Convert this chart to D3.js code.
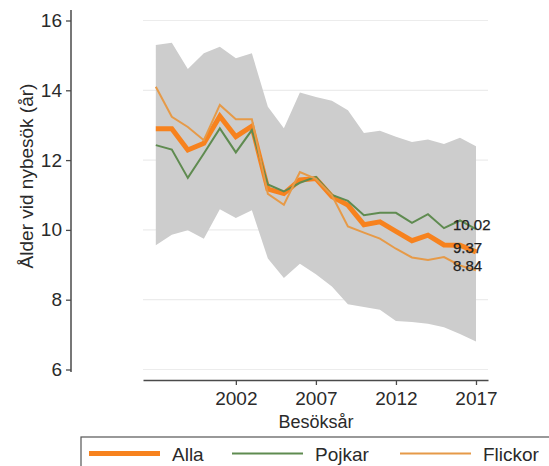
<!DOCTYPE html>
<html>
<head>
<meta charset="utf-8">
<script src="https://cdn.jsdelivr.net/npm/d3@7"></script>
<style>
  html, body { margin: 0; padding: 0; background: #fff; }
  svg { display: block; font-family: "Liberation Sans", Arial, sans-serif; }
</style>
</head>
<body>
<svg id="chart" width="549" height="466"></svg>
<script>
// Visit years
const years = [1997, 1998, 1999, 2000, 2001, 2002, 2003, 2004, 2005, 2006, 2007,
               2008, 2009, 2010, 2011, 2012, 2013, 2014, 2015, 2016, 2017];

// Mean age at first visit
const alla    = [12.90, 12.90, 12.29, 12.48, 13.26, 12.67, 12.97, 11.17, 11.04, 11.43, 11.47,
                 10.96, 10.71, 10.15, 10.23, 9.96, 9.69, 9.85, 9.57, 9.56, 9.37];
const pojkar  = [12.43, 12.30, 11.49, 12.19, 12.91, 12.22, 12.86, 11.30, 11.10, 11.35, 11.52,
                 11.00, 10.83, 10.42, 10.49, 10.49, 10.20, 10.45, 10.05, 10.27, 10.02];
const flickor = [14.10, 13.24, 12.95, 12.57, 13.58, 13.17, 13.17, 11.03, 10.72, 11.66, 11.46,
                 10.99, 10.10, 9.92, 9.75, 9.46, 9.21, 9.14, 9.22, 8.98, 8.84];

// Spread band (upper / lower limit)
const bandHigh = [15.30, 15.36, 14.61, 15.06, 15.25, 14.92, 15.06, 13.53, 12.91, 13.94, 13.81,
                  13.70, 13.43, 12.78, 12.84, 12.67, 12.52, 12.59, 12.46, 12.64, 12.40];
const bandLow  = [9.56, 9.86, 9.99, 9.75, 10.59, 10.34, 10.56, 9.18, 8.62, 9.03, 8.73,
                  8.38, 7.87, 7.79, 7.71, 7.39, 7.36, 7.31, 7.21, 7.02, 6.80];

// Axis ticks
const xTicks = [2002, 2007, 2012, 2017];
const yTicks = [6, 8, 10, 12, 14, 16];

const seriesNames = ["Alla", "Pojkar", "Flickor"];
const seriesValues = [alla, pojkar, flickor];
const seriesColors = ["#f7821e", "#5f8b50", "#e69a48"];
const seriesWidths = [5, 2, 2];

const svg = d3.select("#chart");
const axisColor = "#4a4a4a";
const textColor = "#2a2a2a";

const x = d3.scaleLinear().domain([1996.2, 2017.75]).range([143, 488]);
const y = d3.scaleLinear().domain([6, 16]).range([369.5, 20.5]);

// Gridlines
svg.append("g").selectAll("line").data(yTicks).join("line")
  .attr("x1", x.range()[0]).attr("x2", x.range()[1])
  .attr("y1", d => y(d)).attr("y2", d => y(d))
  .attr("stroke", "#ececec").attr("stroke-width", 1.2);

// Band
const rows = years.map((yr, i) => ({ yr, hi: bandHigh[i], lo: bandLow[i] }));
svg.append("path").datum(rows)
  .attr("fill", "#cdcdcd")
  .attr("d", d3.area().x(d => x(d.yr)).y0(d => y(d.lo)).y1(d => y(d.hi)));

// Lines
const line = d3.line().x(d => x(d[0])).y(d => y(d[1]));
seriesValues.forEach((vals, k) => {
  svg.append("path")
    .datum(years.map((yr, i) => [yr, vals[i]]))
    .attr("fill", "none")
    .attr("stroke", seriesColors[k])
    .attr("stroke-width", seriesWidths[k])
    .attr("stroke-linejoin", "miter")
    .attr("d", line);
});

// End-value labels
const lastYear = years[years.length - 2];
[pojkar, alla, flickor].forEach(vals => {
  const v = vals[vals.length - 1];
  svg.append("text")
    .attr("x", x(lastYear) - 7)
    .attr("y", y(v) + 1)
    .attr("font-size", 15)
    .attr("fill", "#222")
    .attr("stroke", "#222").attr("stroke-width", 0.25)
    .text(v.toFixed(2));
});

// Y axis
const yAxis = svg.append("g").attr("transform", "translate(71,0)")
  .call(d3.axisLeft(y).tickValues(yTicks).tickSize(5).tickPadding(4).tickSizeOuter(0));
yAxis.select(".domain").remove();
yAxis.append("line")
  .attr("x1", 0).attr("x2", 0)
  .attr("y1", y(16.3)).attr("y2", y(5.93))
  .attr("stroke", axisColor).attr("stroke-width", 1.5);
yAxis.selectAll(".tick line").attr("stroke", axisColor).attr("stroke-width", 1.3);
yAxis.selectAll(".tick text").attr("font-size", 19).attr("fill", textColor)
  .attr("font-family", "Liberation Sans, Arial, sans-serif");

// X axis
const xAxis = svg.append("g").attr("transform", "translate(0,380)")
  .call(d3.axisBottom(x).tickValues(xTicks).tickFormat(d3.format("d"))
    .tickSize(5).tickPadding(7).tickSizeOuter(0));
xAxis.select(".domain").attr("stroke", axisColor).attr("stroke-width", 1.5);
xAxis.selectAll(".tick line").attr("stroke", axisColor).attr("stroke-width", 1.3);
xAxis.selectAll(".tick text").attr("font-size", 19).attr("fill", textColor)
  .attr("font-family", "Liberation Sans, Arial, sans-serif");

// Axis titles
svg.append("text")
  .attr("transform", "translate(33,176) rotate(-90)")
  .attr("text-anchor", "middle")
  .attr("font-size", 19)
  .attr("fill", textColor)
  .text("Ålder vid nybesök (år)");

svg.append("text")
  .attr("x", x(2007)).attr("y", 427.5)
  .attr("text-anchor", "middle")
  .attr("font-size", 18)
  .attr("fill", textColor)
  .text("Besöksår");

// Legend
const legend = svg.append("g");
legend.append("rect")
  .attr("x", 81).attr("y", 437).attr("width", 490).attr("height", 50)
  .attr("fill", "#fff").attr("stroke", "#555").attr("stroke-width", 1.2);
const legendX = [89, 232, 400];
seriesNames.forEach((name, k) => {
  legend.append("line")
    .attr("x1", legendX[k]).attr("x2", legendX[k] + 71)
    .attr("y1", 453.5).attr("y2", 453.5)
    .attr("stroke", seriesColors[k]).attr("stroke-width", seriesWidths[k]);
  legend.append("text")
    .attr("x", legendX[k] + 83).attr("y", 461)
    .attr("font-size", 19).attr("fill", textColor)
    .text(name);
});
</script>
</body>
</html>
